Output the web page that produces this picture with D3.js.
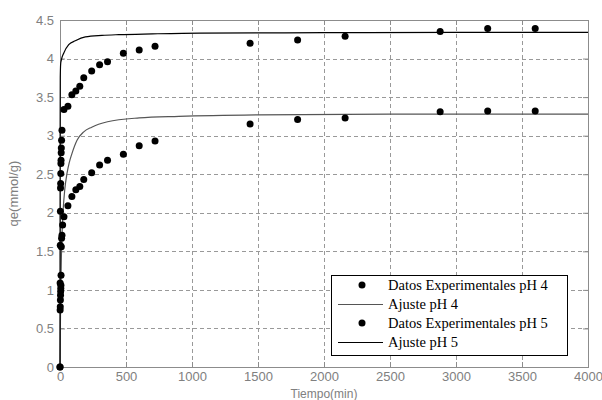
<!DOCTYPE html>
<html>
<head>
<meta charset="utf-8">
<script src="https://cdn.jsdelivr.net/npm/d3@7"></script>
<style>
  body { margin: 0; background: #fff; }
  text { font-family: "Liberation Sans", Arial, sans-serif; }
</style>
</head>
<body>
<svg width="602" height="400"></svg>
<script>
// experimental data (time in min, qe in mmol/g)
const timePH4 = [0, 1, 2, 3, 4, 5, 6, 7, 8, 9, 10, 12, 15, 30, 60, 90, 120, 150, 180, 240, 300, 360, 480, 600, 720, 1440, 1800, 2160, 2880, 3240, 3600];
const qePH4   = [0, 1.09, 1.58, 2.02, 2.32, 2.38, 2.51, 2.64, 2.68, 2.78, 2.84, 2.94, 3.07, 3.34, 3.38, 3.53, 3.58, 3.64, 3.75, 3.84, 3.92, 3.96, 4.07, 4.11, 4.16, 4.20, 4.24, 4.29, 4.35, 4.39, 4.39];

const timePH5 = [0, 1, 2, 3, 4, 5, 6, 7, 8, 10, 12, 15, 20, 30, 60, 90, 120, 150, 180, 240, 300, 360, 480, 600, 720, 1440, 1800, 2160, 2880, 3240, 3600];
const qePH5   = [0, 0.74, 0.78, 0.87, 0.93, 0.98, 1.02, 1.06, 1.19, 1.56, 1.67, 1.71, 1.84, 1.95, 2.09, 2.21, 2.30, 2.34, 2.43, 2.52, 2.62, 2.68, 2.76, 2.87, 2.93, 3.15, 3.21, 3.23, 3.31, 3.32, 3.32];

// fitted curves
const fitTimePH4 = [0, 1, 2, 5, 10, 28, 66, 116, 192, 318, 445, 700, 1061, 2000, 3000, 4000];
const fitQePH4   = [0, 3.0, 3.75, 3.93, 3.98, 4.07, 4.18, 4.23, 4.28, 4.30, 4.31, 4.32, 4.33, 4.335, 4.34, 4.34];

const fitTimePH5 = [0, 5, 10, 15, 23, 36, 53, 70, 91, 129, 180, 240, 360, 600, 900, 1500, 2500, 4000];
const fitQePH5   = [0, 0.9, 1.4, 1.7, 2.01, 2.3, 2.51, 2.65, 2.77, 2.94, 3.05, 3.11, 3.18, 3.23, 3.25, 3.27, 3.28, 3.28];

const xTicks = [0, 500, 1000, 1500, 2000, 2500, 3000, 3500, 4000];
const yTicks = [0, 0.5, 1, 1.5, 2, 2.5, 3, 3.5, 4, 4.5];

const legendLabels = ["Datos Experimentales pH 4", "Ajuste pH 4", "Datos Experimentales pH 5", "Ajuste pH 5"];

const svg = d3.select("svg");
const margin = { top: 20, right: 14, bottom: 33, left: 60 };
const width = 602 - margin.left - margin.right;
const height = 400 - margin.top - margin.bottom;

const x = d3.scaleLinear().domain([0, 4000]).range([0, width]);
const y = d3.scaleLinear().domain([0, 4.5]).range([height, 0]);

const g = svg.append("g").attr("transform", `translate(${margin.left},${margin.top})`);

// grid
g.append("g").selectAll("line").data(xTicks.slice(1, -1)).join("line")
  .attr("x1", d => x(d) + 0.5).attr("x2", d => x(d) + 0.5)
  .attr("y1", 0).attr("y2", height)
  .attr("stroke", "#999").attr("stroke-dasharray", "4,3");
g.append("g").selectAll("line").data(yTicks.slice(1, -1)).join("line")
  .attr("y1", d => Math.round(y(d)) + 0.5).attr("y2", d => Math.round(y(d)) + 0.5)
  .attr("x1", 0).attr("x2", width)
  .attr("stroke", "#999").attr("stroke-dasharray", "4,3");

// axes (ticks inward, matlab style)
const axisColor = "#8c8c8c";
function styleAxis(sel, showText) {
  sel.select(".domain").remove();
  sel.selectAll("line").attr("stroke", axisColor);
  sel.selectAll("text").attr("fill", "#808080").style("font-size", "13px");
  if (!showText) sel.selectAll("text").remove();
}
g.append("g").attr("transform", `translate(0,${height})`)
  .call(d3.axisBottom(x).tickValues(xTicks).tickSize(-5).tickPadding(5).tickFormat(d3.format("d")))
  .call(s => styleAxis(s, true));
g.append("g")
  .call(d3.axisTop(x).tickValues(xTicks).tickSize(-5))
  .call(s => styleAxis(s, false));
g.append("g")
  .call(d3.axisLeft(y).tickValues(yTicks).tickSize(-5).tickPadding(6).tickFormat(d => d))
  .call(s => styleAxis(s, true));
g.append("g").attr("transform", `translate(${width},0)`)
  .call(d3.axisRight(y).tickValues(yTicks).tickSize(-5))
  .call(s => styleAxis(s, false));

g.append("rect").attr("x", 0.5).attr("y", 0.5).attr("width", width).attr("height", height)
  .attr("fill", "none").attr("stroke", axisColor);

// fitted curves
const line = d3.line().x(d => x(d[0])).y(d => y(d[1])).curve(d3.curveMonotoneX);
g.append("path").datum(d3.zip(fitTimePH5, fitQePH5))
  .attr("d", line).attr("fill", "none").attr("stroke", "#555").attr("stroke-width", 1.2);
g.append("path").datum(d3.zip(fitTimePH4, fitQePH4))
  .attr("d", line).attr("fill", "none").attr("stroke", "#000").attr("stroke-width", 1.2);

// experimental points
const pts = d3.zip(timePH4, qePH4).concat(d3.zip(timePH5, qePH5));
g.append("g").selectAll("circle").data(pts).join("circle")
  .attr("cx", d => x(d[0])).attr("cy", d => y(d[1])).attr("r", 3.5)
  .attr("fill", "#000");

// axis labels
svg.append("text").attr("x", margin.left + width / 2).attr("y", 398)
  .attr("text-anchor", "middle").attr("fill", "#808080").style("font-size", "12px")
  .text("Tiempo(min)");
svg.append("text").attr("transform", `translate(18,${margin.top + height / 2}) rotate(-90)`)
  .attr("text-anchor", "middle").attr("fill", "#808080").style("font-size", "13px")
  .text("qe(mmol/g)");

// legend
const lg = svg.append("g").attr("transform", "translate(331,275)");
lg.append("rect").attr("x", 0.5).attr("y", 0.5).attr("width", 236).attr("height", 80)
  .attr("fill", "#fff").attr("stroke", "#000");
legendLabels.forEach((label, i) => {
  const yy = 10 + i * 19;
  if (i % 2 === 0) {
    lg.append("circle").attr("cx", 31).attr("cy", yy).attr("r", 3.5).attr("fill", "#000");
  } else {
    lg.append("line").attr("x1", 7).attr("x2", 52).attr("y1", yy + 0.5).attr("y2", yy + 0.5)
      .attr("stroke", i === 1 ? "#555" : "#000");
  }
  lg.append("text").attr("x", 57).attr("y", yy + 5)
    .style("font-family", "'Liberation Serif', 'Times New Roman', serif")
    .style("font-size", "14.5px").attr("fill", "#000")
    .text(label);
});
</script>
</body>
</html>
